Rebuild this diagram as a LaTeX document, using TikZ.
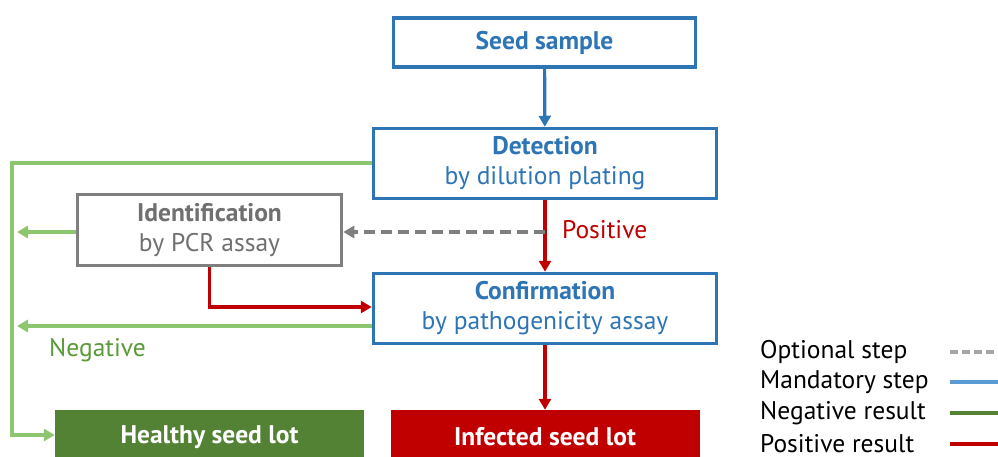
\documentclass[tikz,border=0pt]{standalone}
\usepackage{fontspec}
\setmainfont{PT Sans}
\usetikzlibrary{arrows.meta}
\definecolor{cblue}{HTML}{2E75B6}
\definecolor{lblue}{HTML}{5B9BD5}
\definecolor{cgray}{HTML}{7F7F7F}
\definecolor{tgray}{HTML}{707070}
\definecolor{lgray}{HTML}{A6A6A6}
\definecolor{cred}{HTML}{C00000}
\definecolor{dgreen}{HTML}{548235}
\definecolor{lgreen}{HTML}{8DC66E}
\definecolor{tgreen}{HTML}{5B9A3B}
\tikzset{
  boxstyle/.style={draw, line width=3.5pt, fill=white, minimum width=#1, align=center, inner sep=0pt, font=\fontsize{25.5}{30}\selectfont},
  lotbox/.style={fill=#1, text=white, minimum width=309pt, minimum height=54pt, inner sep=0pt, font=\fontsize{25.5}{30}\selectfont\bfseries},
  conn/.style={line width=3.2pt},
  tip/.style={-{Triangle[length=11pt,width=12pt]}},
  legtext/.style={anchor=west, font=\fontsize{25.5}{30}\selectfont, inner sep=0pt}
}
\begin{document}
\begin{tikzpicture}[x=1pt,y=-1pt]
\useasboundingbox (0,0) rectangle (998,456);
% boxes
\node[boxstyle=302pt, minimum height=49pt, draw=cblue, text=cblue] (seed) at (544.5,42.5) {\textbf{Seed sample}};
\node[boxstyle=343pt, minimum height=70pt, draw=cblue, text=cblue] (det) at (545,163.5) {\textbf{Detection}\\by dilution plating};
\node[boxstyle=264pt, minimum height=71pt, draw=cgray, text=tgray] (ident) at (209.5,230) {\textbf{Identification}\\by PCR assay};
\node[boxstyle=343pt, minimum height=70pt, draw=cblue, text=cblue] (conf) at (545,308.5) {\textbf{Confirmation}\\by pathogenicity assay};
\node[lotbox=dgreen] (healthy) at (209.5,437) {Healthy seed lot};
\node[lotbox=cred] (infected) at (545,437) {Infected seed lot};
% connectors
\draw[conn, cblue, tip] (seed) -- (det);
\draw[conn, cred, tip] (det) -- (conf);
\draw[conn, cred, tip] (conf) -- (infected);
\draw[conn, cgray, dash pattern=on 11pt off 6pt, tip] (det.south |- 0,232) -- (ident.east |- 0,232);
\draw[conn, cred, tip] (ident.south) |- (conf.west |- 0,307);
\coordinate (leftA) at (17,232);
\coordinate (leftB) at (17,326);
\coordinate (corner) at (12,163);
\draw[conn, lgreen, tip] (det.west |- corner) -- (corner) |- (healthy.west |- 0,435);
\draw[conn, lgreen, tip] (ident.west |- leftA) -- (leftA);
\draw[conn, lgreen, tip] (conf.west |- leftB) -- (leftB);
% labels
\node[anchor=west, text=cred, font=\fontsize{25.5}{30}\selectfont, inner sep=0pt] (pos) at (562,230) {Positive};
\node[anchor=west, text=tgreen, font=\fontsize{25.5}{30}\selectfont, inner sep=0pt] (neg) at (49,350) {Negative};
% legend
\node[legtext] (l1) at (760,352) {Optional step};
\node[legtext] (l2) at (760,382) {Mandatory step};
\node[legtext] (l3) at (760,413) {Negative result};
\node[legtext] (l4) at (760,444) {Positive result};
\coordinate (e1) at (1005,352);
\coordinate (e2) at (1005,382);
\coordinate (e3) at (1005,413);
\coordinate (e4) at (1005,444);
\draw[conn, lgray, dash pattern=on 8pt off 4pt] (950,352) -- (e1);
\draw[conn, lblue] (950,382) -- (e2);
\draw[conn, dgreen] (950,413) -- (e3);
\draw[conn, cred] (950,444) -- (e4);
\end{tikzpicture}
\end{document}
